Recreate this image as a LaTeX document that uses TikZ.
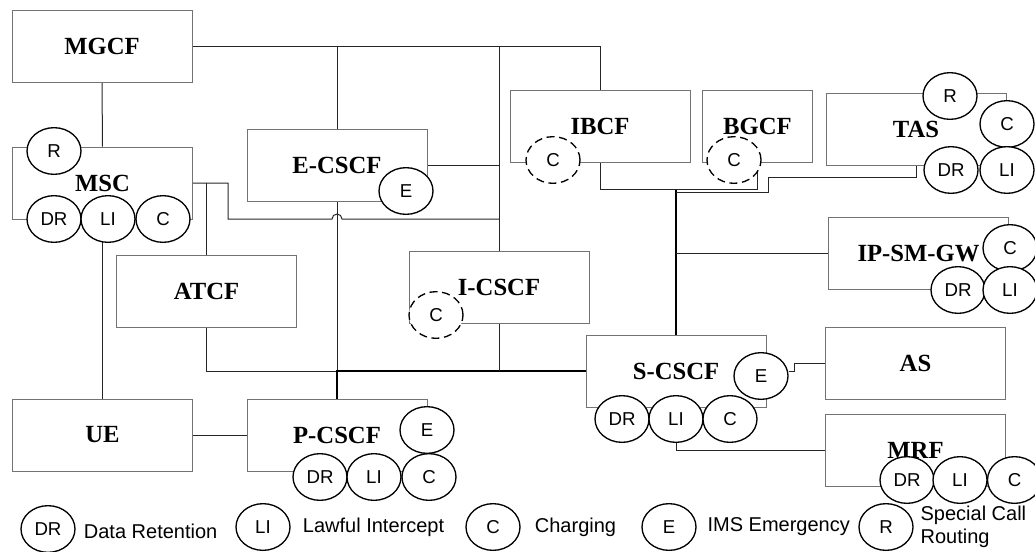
\documentclass[tikz,border=0pt]{standalone}
\usepackage{fontspec}
\setmainfont{Liberation Serif}
\setsansfont{Liberation Sans}
\usetikzlibrary{shapes.geometric, positioning, calc, backgrounds}

\begin{document}
\begin{tikzpicture}[x=0.75pt, y=-0.75pt,
    fnbox/.style={draw=black!55, line width=0.75pt, fill=white, minimum width=135pt, minimum height=54pt, inner sep=0pt, font=\fontsize{18.5}{20}\selectfont\bfseries},
    badge/.style={ellipse, draw, line width=1pt, fill=white, minimum width=40.5pt, minimum height=35pt, inner sep=0pt, font=\sffamily\fontsize{14}{16}\selectfont},
    optbadge/.style={badge, dash pattern=on 6pt off 3.5pt},
    link/.style={draw=black!85, line width=0.75pt},
    trunk/.style={draw=black, line width=1.3pt},
    legtext/.style={font=\sffamily\fontsize{15}{17}\selectfont, inner sep=0pt, align=left}
]
\useasboundingbox (0,0) rectangle (1035,551);

% Funcoes de rede
\node[fnbox] (mgcf) at (102,46.5) {MGCF};
\node[fnbox] (msc) at (102.5,183) {MSC};
\node[fnbox] (ecscf) at (337,165) {E-CSCF};
\node[fnbox] (atcf) at (206.5,291.5) {ATCF};
\node[fnbox] (icscf) at (499,287.5) {I-CSCF};
\node[fnbox] (ue) at (102.5,435) {UE};
\node[fnbox] (pcscf) at (337,435) {P-CSCF};
\node[fnbox] (ibcf) at (600,126) {IBCF};
\node[fnbox, minimum width=83pt] (bgcf) at (757.5,126) {BGCF};
\node[fnbox] (tas) at (916,129) {TAS};
\node[fnbox] (ipsm) at (918.5,253.5) {IP-SM-GW};
\node[fnbox] (scscf) at (676,371) {S-CSCF};
\node[fnbox] (asrv) at (915.5,363) {AS};
\node[fnbox] (mrf) at (915.5,450) {MRF};

% Marcas de funcionalidade
\node[badge] (mscR) at (54,151) {R};
\node[badge] (mscDR) at (54,219) {DR};
\node[badge] (mscLI) at (108,219) {LI};
\node[badge] (mscC) at (163,219) {C};
\node[badge] (ecE) at (406,191) {E};
\node[optbadge] (icC) at (436,315) {C};
\node[badge] (pcE) at (427,430) {E};
\node[badge] (pcDR) at (320,477) {DR};
\node[badge] (pcLI) at (374,477) {LI};
\node[badge] (pcC) at (429,477) {C};
\node[optbadge] (ibC) at (553,160) {C};
\node[optbadge] (bgC) at (734,160) {C};
\node[badge] (tasR) at (950,96) {R};
\node[badge] (tasC) at (1007,124) {C};
\node[badge] (tasDR) at (951,170) {DR};
\node[badge] (tasLI) at (1007,170) {LI};
\node[badge] (ipC) at (1010,248) {C};
\node[badge] (ipDR) at (958,290) {DR};
\node[badge] (ipLI) at (1010,290) {LI};
\node[badge] (scE) at (761,376) {E};
\node[badge] (scDR) at (622,419) {DR};
\node[badge] (scLI) at (676,419) {LI};
\node[badge] (scC) at (730,419) {C};
\node[badge] (mrfDR) at (907,480) {DR};
\node[badge] (mrfLI) at (960,480) {LI};
\node[badge] (mrfC) at (1014.5,480) {C};

% Ligacoes (atras das caixas)
\begin{scope}[on background layer]
    \coordinate (hopy) at (499,219);
    \coordinate (ibj) at ($(ibcf.south)+(0,27)$);
    \coordinate (tasj) at (768,177);
    \draw[link] (mgcf.south) -- (msc.north);
    \draw[link] (mgcf.east) -| (ibcf.north);
    \draw[link] (ecscf.north) -- (ecscf.north |- mgcf.east);
    \draw[link] (icscf.north) -- (icscf.north |- mgcf.east);
    \draw[link] (ecscf.east) -- (ecscf.east -| icscf.north);
    \draw[link] (msc.east) -- ++(35,0) |- ($(ecscf.south |- hopy)+(-5,0)$)
        arc[start angle=180, end angle=0, radius=3.75pt] -- (hopy);
    \draw[link] (atcf.north) -- (atcf.north |- msc.east);
    \draw[link] (atcf.south) |- (scscf.west);
    \draw[link] (ecscf.south) -- (pcscf.north);
    \draw[trunk] (pcscf.north) -- (pcscf.north |- scscf.west) -- (scscf.west);
    \draw[link] (icscf.south) -- (icscf.south |- scscf.west);
    \draw[link] (ue.north) -- (ue.north |- msc.south);
    \draw[link] (ue.east) -- (pcscf.west);
    \draw[link] (ibcf.south) -- (ibj) -| (bgcf.south);
    \draw[trunk, line width=1pt] (scscf.north) -- (scscf.north |- ibj);
    \draw[link] ([yshift=-2]scscf.north |- ibj) -- ([yshift=-2]tasj |- ibj) -- (tasj) -| (tas.south);
    \draw[link] (ipsm.west) -- (ipsm.west -| scscf.north);
    \draw[link] (scE.east |- scscf.east) -- ++(6,0) |- (asrv.west);
    \draw[link] (scLI.south) |- (mrf.west);
\end{scope}

% Legenda
\node[badge] (lgDR) at (48,529) {DR};
\node[legtext, right=6pt of lgDR, yshift=-2pt] (lgDRt) {Data Retention};
\node[badge] (lgLI) at (263,527) {LI};
\node[legtext, right=9pt of lgLI] (lgLIt) {Lawful Intercept};
\node[badge] (lgC) at (493,527) {C};
\node[legtext, right=10.5pt of lgC] (lgCt) {Charging};
\node[badge] (lgE) at (669,527) {E};
\node[legtext, right=8pt of lgE] (lgEt) {IMS Emergency};
\node[badge] (lgR) at (886,527) {R};
\node[legtext, right=5pt of lgR] (lgRt) {Special Call\\Routing};
\end{tikzpicture}
\end{document}
